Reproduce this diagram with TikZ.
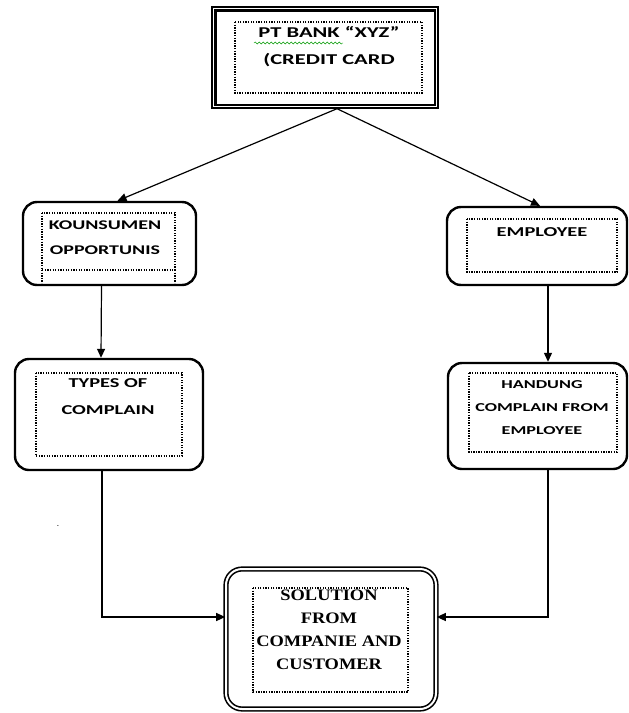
\documentclass[tikz,border=0pt]{standalone}
\usepackage{fontspec}
\usetikzlibrary{arrows.meta,positioning,decorations.pathmorphing}
\newfontfamily\boxfont[FakeStretch=1.5]{Carlito}
\newfontfamily\solfont[FakeStretch=1.15]{Liberation Serif}
\tikzset{
	outerbox/.style={draw, line width=2.4pt, rounded corners=14pt, inner sep=0pt},
	dotbox/.style={draw, line width=1.3pt, dash pattern=on 1.3pt off 1.3pt},
	boxtext/.style 2 args={font=\boxfont\bfseries\fontsize{#1}{#2}\selectfont, align=center, inner sep=0pt},
	arr/.style={-{Triangle[length=9pt,width=8pt]}, line width=1.2pt}
}
\begin{document}
\begin{tikzpicture}[x=1pt,y=-1pt]
	\useasboundingbox (0,0) rectangle (629,713);
	% Kopf: Bank
	\node [draw, line width=1.4pt, minimum width=226pt, minimum height=101pt] (bank) at (325,57.5) {};
	\draw [line width=2.4pt] ([shift={(4,-4)}]bank.south west) rectangle ([shift={(-4,4)}]bank.north east);
	\draw [dotbox] (235,22) rectangle (422,93);
	\node [boxtext={15}{27}] (banktxt) at (329,47) {PT BANK “XYZ”\\(CREDIT CARD};
	\draw [green!60!black, decorate, decoration={snake, amplitude=1pt, segment length=4pt}] (254,43) -- (343,43);
	% linke Seite
	\node [outerbox, minimum width=173pt, minimum height=83pt] (kons) at (109.5,243.5) {};
	\draw [dotbox] (42,213) rectangle (175,270);
	\draw [dotbox] (42,270) -- (42,283) (175,270) -- (175,283);
	\node [boxtext={13.3}{25}] (konstxt) at (105,237.5) {KOUNSUMEN\\OPPORTUNIS};
	\node [outerbox, minimum width=188pt, minimum height=111pt] (types) at (109,414.5) {};
	\draw [dotbox] (36,373) rectangle (182,456);
	\node [boxtext={13.6}{27}] (typestxt) at (108,396.5) {TYPES OF\\COMPLAIN};
	% rechte Seite
	\node [outerbox, minimum width=180pt, minimum height=78pt] (emp) at (537,246) {};
	\draw [dotbox] (467,219) rectangle (617,272);
	\node [boxtext={13.6}{20}] (emptxt) at (542,232) {EMPLOYEE};
	\node [outerbox, minimum width=179pt, minimum height=106pt] (hand) at (537.5,416) {};
	\draw [dotbox] (469,373) rectangle (617,452);
	\node [boxtext={12.1}{23}] (handtxt) at (542,408) {HANDUNG\\COMPLAIN FROM\\EMPLOYEE};
	% Loesung
	\node [draw, line width=1.6pt, double, double distance=2pt, rounded corners=16pt, minimum width=210pt, minimum height=140pt] (sol) at (331,639) {};
	\draw [dotbox] (253,588) rectangle (408,692);
	\node [font=\solfont\bfseries\fontsize{16}{23}\selectfont, align=center, inner sep=0pt] (soltxt) at (329,630) {SOLUTION\\FROM\\COMPANIE AND\\CUSTOMER};
	\node [inner sep=0pt] (dot) at (58,526) {.};
	% Pfeile
	\coordinate (fork) at ([xshift=12pt]bank.south);
	\draw [arr] (fork) -- ([xshift=8pt]kons.north);
	\draw [arr] (fork) -- ([xshift=3pt]emp.north);
	\draw [arr] ([xshift=-8pt]kons.south) -- ([xshift=-8pt]types.north);
	\draw [arr] ([xshift=11pt]emp.south) -- ([xshift=10.5pt]hand.north);
	\draw [arr] ([xshift=-7pt]types.south) |- ([yshift=22pt]sol.west);
	\draw [arr] ([xshift=10.5pt]hand.south) |- ([yshift=22pt]sol.east);
\end{tikzpicture}
\end{document}
